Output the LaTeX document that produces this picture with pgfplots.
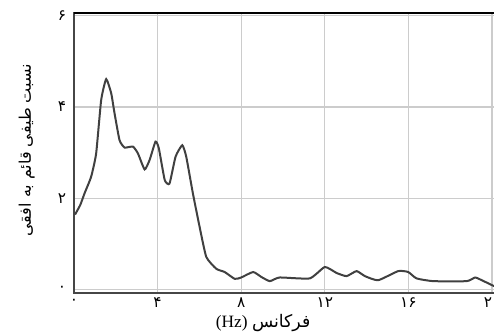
\documentclass[border=0pt]{standalone}
\usepackage{fontspec}
\setmainfont{Liberation Serif}
\newfontfamily\arabicfont[Script=Arabic]{DejaVu Sans}
\TeXXeTstate=1
\usepackage{pgfplots}
\pgfplotsset{compat=1.18}
\begin{document}
\begin{tikzpicture}
\begin{axis}[
  scale only axis,
  width=316.65pt, height=210pt,
  xmin=0, xmax=20.2, ymin=-0.08, ymax=6.06,
  xtick={0,4,8,12,16,20},
  xticklabels={۰,۴,۸,۱۲,۱۶,۲۰},
  ytick={0,2,4,6},
  yticklabels={۰,۲,۴,۶},
  major tick length=0pt,
  tick label style={font=\arabicfont\fontsize{11.5}{13}\selectfont},
  xticklabel style={anchor=center, yshift=-7pt},
  yticklabel style={anchor=center, xshift=-9pt},
  grid=major,
  major grid style={gray!40, line width=0.9pt},
  axis line style={gray!55!black, line width=1pt},
  xlabel={\fontsize{13}{15}\selectfont(Hz)~{\arabicfont\beginR فرکانس\endR}},
  xlabel style={at={(axis description cs:0.448,-0.107)}, anchor=center},
  ylabel={\arabicfont\fontsize{12}{14}\selectfont\beginR نسبت طیفی قائم به افقی\endR},
  ylabel style={at={(axis description cs:-0.112,0.51)}, anchor=center},
  clip=true,
]
\addplot[color=black!75, line width=1.5pt, smooth, tension=0.3] coordinates {
(0.05,1.64)(0.3,1.85)(0.5,2.1)(0.82,2.47)(1.06,2.98)(1.3,4.15)(1.54,4.61)(1.78,4.3)(1.94,3.86)(2.18,3.27)(2.42,3.11)(2.82,3.13)(3.06,2.98)(3.38,2.63)(3.62,2.84)(3.9,3.24)(4.06,3.09)(4.34,2.40)(4.57,2.32)(4.86,2.91)(5.18,3.16)(5.37,2.91)(5.69,2.10)(6.01,1.37)(6.33,0.71)(6.81,0.45)(7.21,0.38)(7.69,0.23)(8.0,0.26)(8.57,0.38)(8.97,0.27)(9.37,0.18)(9.84,0.26)(11.28,0.24)(12.0,0.49)(12.56,0.36)(13.04,0.29)(13.52,0.40)(13.92,0.29)(14.55,0.20)(15.51,0.40)(15.99,0.38)(16.39,0.24)(17.19,0.18)(18.79,0.18)(19.19,0.26)(19.51,0.20)(20.1,0.07)
};
\draw[black, line width=1.6pt] (rel axis cs:0,1) -- (rel axis cs:1,1);
\coordinate (O) at (rel axis cs:0,0);
\end{axis}
\pgfresetboundingbox
\path (O) ++(-55.5pt,-32.25pt) rectangle ++(370.5pt,252pt);
\end{tikzpicture}
\end{document}
